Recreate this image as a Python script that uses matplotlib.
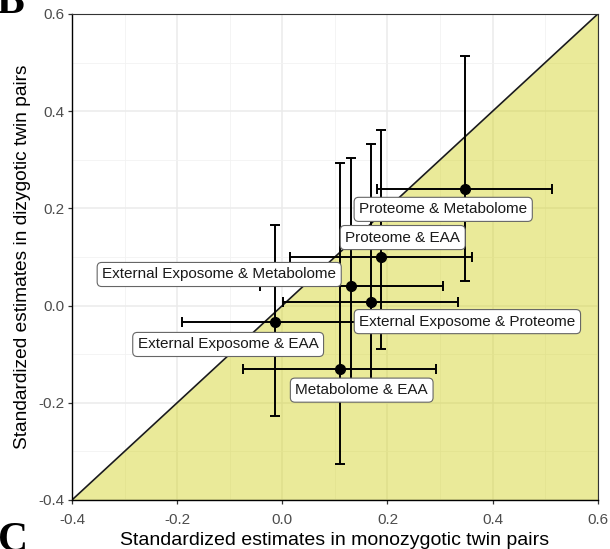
import matplotlib
matplotlib.use("Agg")
import matplotlib.pyplot as plt

plt.rcParams["font.family"] = ["Liberation Sans", "DejaVu Sans"]

# pairwise omics correlations, standardized estimates with 95% intervals
pairs = [
    "Proteome & Metabolome",
    "Proteome & EAA",
    "External Exposome & Metabolome",
    "External Exposome & Proteome",
    "External Exposome & EAA",
    "Metabolome & EAA",
]
mz_est = [0.347, 0.187, 0.130, 0.168, -0.013, 0.109]
mz_low = [0.181, 0.015, -0.043, 0.002, -0.191, -0.074]
mz_high = [0.513, 0.360, 0.306, 0.334, 0.165, 0.293]
dz_est = [0.240, 0.099, 0.041, 0.008, -0.033, -0.130]
dz_low = [0.051, -0.090, -0.170, -0.180, -0.227, -0.327]
dz_high = [0.514, 0.361, 0.304, 0.333, 0.165, 0.293]

axis_lo, axis_hi = -0.4, 0.6
ticks = [-0.4, -0.2, 0.0, 0.2, 0.4, 0.6]
tick_labels = ["-0.4", "-0.2", "0.0", "0.2", "0.4", "0.6"]

# where the repelled labels ended up
label_xy = [
    (0.306, 0.198),
    (0.229, 0.140),
    (-0.120, 0.064),
    (0.352, -0.033),
    (-0.103, -0.080),
    (0.151, -0.174),
]

fig = plt.figure(figsize=(6.1, 5.49), dpi=100)
ax = fig.add_axes([0.118, 0.0893, 0.862, 0.8852])

ax.set_xlim(axis_lo, axis_hi)
ax.set_ylim(axis_lo, axis_hi)

# grid like theme_bw
ax.set_xticks(ticks)
ax.set_yticks(ticks)
ax.set_xticks([-0.3, -0.1, 0.1, 0.3, 0.5], minor=True)
ax.set_yticks([-0.3, -0.1, 0.1, 0.3, 0.5], minor=True)
ax.grid(which="major", color="#ebebeb", linewidth=1.1, zorder=0)
ax.grid(which="minor", color="#f2f2f2", linewidth=0.6, zorder=0)
ax.tick_params(which="minor", length=0)
ax.set_axisbelow(True)

# region below the diagonal (MZ > DZ)
ax.fill_between([axis_lo, axis_hi], [axis_lo, axis_hi], [axis_lo, axis_lo],
                color="#cccc00", alpha=0.4, linewidth=0, zorder=1)
ax.plot([axis_lo, axis_hi], [axis_lo, axis_hi], color="#1a1a1a", linewidth=1.2, zorder=2)

for i in range(len(pairs)):
    ax.errorbar(
        mz_est[i], dz_est[i],
        xerr=[[mz_est[i] - mz_low[i]], [mz_high[i] - mz_est[i]]],
        yerr=[[dz_est[i] - dz_low[i]], [dz_high[i] - dz_est[i]]],
        fmt="o", color="black", markersize=7, elinewidth=1.4,
        capsize=3.6, capthick=1.4, zorder=3,
    )

for name, (lx, ly) in zip(pairs, label_xy):
    ax.text(lx, ly, name, ha="center", va="center", fontsize=11, color="#1a1a1a",
            zorder=5,
            bbox=dict(boxstyle="round,pad=0.33,rounding_size=0.3", facecolor="white",
                      edgecolor="#666666", linewidth=0.8))

ax.set_xticklabels(tick_labels)
ax.set_yticklabels(tick_labels)
ax.tick_params(which="major", length=3, width=0.9, color="#333333",
               labelcolor="#4d4d4d", labelsize=11)
ax.tick_params(axis="x", pad=6.5)
ax.tick_params(axis="y", pad=2.5)

for side in ("left", "bottom"):
    ax.spines[side].set_color("black")
    ax.spines[side].set_linewidth(1.0)
for side in ("top", "right"):
    ax.spines[side].set_color("#333333")
    ax.spines[side].set_linewidth(0.8)

ax.set_xlabel("Standardized estimates in monozygotic twin pairs", fontsize=14,
              labelpad=3.5)
ax.set_ylabel("Standardized estimates in dizygotic twin pairs", fontsize=13.8,
              labelpad=5)

# neighbouring panel letters that peek into the crop
fig.text(-0.006, 0.976, "B", fontsize=30, fontweight="bold",
         family="Liberation Serif", va="baseline", ha="left")
fig.text(-0.004, -0.004, "C", fontsize=30, fontweight="bold",
         family="Liberation Serif", va="baseline", ha="left")

fig.savefig("out.png", dpi=100)
